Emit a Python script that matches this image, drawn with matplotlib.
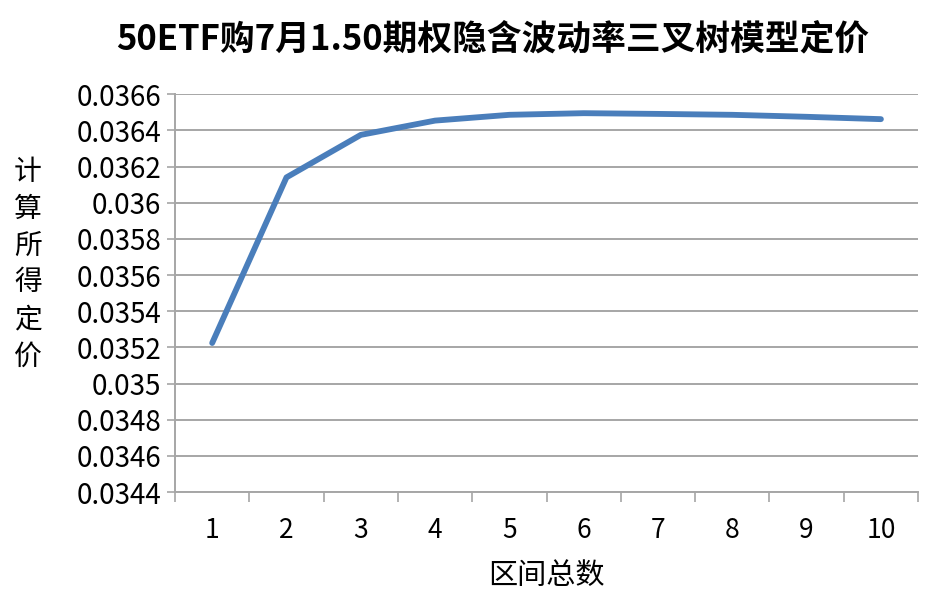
import numpy as np
import matplotlib
matplotlib.use("Agg")
import matplotlib.pyplot as plt
from matplotlib.ticker import FixedLocator

plt.rcParams['font.family'] = ['Noto Sans CJK SC', 'DejaVu Sans']

# 区间总数 与 计算所得定价
intervals = [1, 2, 3, 4, 5, 6, 7, 8, 9, 10]
prices = [0.035224, 0.036140, 0.036375, 0.036454, 0.036486,
          0.036495, 0.036491, 0.036486, 0.036475, 0.036462]
yticks = [0.0344, 0.0346, 0.0348, 0.035, 0.0352, 0.0354, 0.0356,
          0.0358, 0.036, 0.0362, 0.0364, 0.0366]
ytick_labels = ['0.0344', '0.0346', '0.0348', '0.035', '0.0352', '0.0354',
                '0.0356', '0.0358', '0.036', '0.0362', '0.0364', '0.0366']

fig = plt.figure(figsize=(9.33, 6), dpi=100)
ax = fig.add_axes([0.1876, 0.18, 0.7964, 0.663])

x = np.arange(len(intervals))
ax.plot(x, prices, color='#4a7ebb', lw=4.2, solid_capstyle='round',
        solid_joinstyle='round', zorder=3)

ax.set_xlim(-0.5, len(intervals) - 0.5)
ax.set_ylim(0.0344, 0.0366)
ax.set_yticks(yticks)
ax.set_yticklabels(ytick_labels)
ax.set_xticks(x)
ax.set_xticklabels([str(i) for i in intervals])
ax.xaxis.set_minor_locator(FixedLocator(np.arange(-0.5, len(intervals), 1)))

ax.grid(axis='y', color='#a6a6a6', lw=1.4, zorder=0)
for s in ['top', 'right']:
    ax.spines[s].set_visible(False)
for s in ['left', 'bottom']:
    ax.spines[s].set_color('#a6a6a6')
    ax.spines[s].set_linewidth(1.4)

ax.tick_params(axis='y', which='major', length=6, width=1.2, color='#a6a6a6',
               labelsize=20, pad=4)
ax.tick_params(axis='x', which='major', length=0, labelsize=19, pad=18)
ax.tick_params(axis='x', which='minor', length=7, width=1.2, color='#a6a6a6')

ax.set_xlabel('区间总数', fontsize=21, labelpad=12)
fig.text(0.030, 0.56, '\n'.join('计算所得定价'), fontsize=20,
         ha='center', va='center', linespacing=1.3)
fig.text(0.528, 0.935, '50ETF购7月1.50期权隐含波动率三叉树模型定价',
         fontsize=25, fontweight='bold', ha='center', va='center')

fig.savefig('out.png', dpi=100)
